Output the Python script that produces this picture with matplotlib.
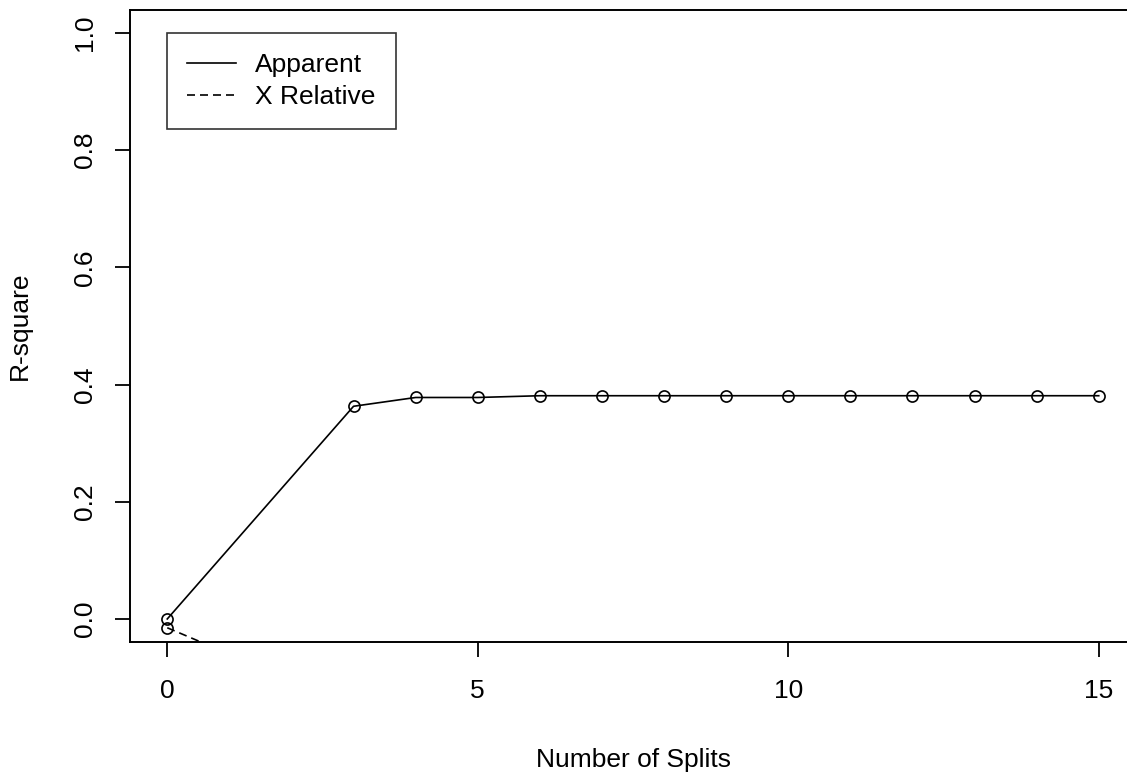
import matplotlib.pyplot as plt
from matplotlib.lines import Line2D

plt.rcParams['font.family'] = ['Liberation Sans', 'DejaVu Sans']

# number of splits and R-square values
splits = [0, 3, 4, 5, 6, 7, 8, 9, 10, 11, 12, 13, 14, 15]
apparent = [0.0, 0.363, 0.378, 0.378, 0.381, 0.381, 0.381, 0.381,
            0.381, 0.381, 0.381, 0.381, 0.381, 0.381]
x_relative = [-0.015, -0.15, -0.17, -0.18, -0.19, -0.19, -0.19, -0.19,
              -0.19, -0.19, -0.19, -0.19, -0.19, -0.19]

x_ticks = [0, 5, 10, 15]
y_ticks = [0.0, 0.2, 0.4, 0.6, 0.8, 1.0]

FS = 19
DASH = (4.8, 3)
W, H = 1127, 772
fig = plt.figure(figsize=(W / 100, H / 100), dpi=100)
left, right, top, bottom = 130, 1136, 9.6, 642.4
ax = fig.add_axes([left / W, (H - bottom) / H, (right - left) / W, (bottom - top) / H])

ax.plot(splits, apparent, '-', color='black', lw=1.2, marker='o',
        mfc='none', mec='black', ms=8, mew=1.2)
ax.plot(splits, x_relative, '--', color='black', lw=1.2, marker='o',
        mfc='none', mec='black', ms=8, mew=1.2, dashes=DASH)

ax.set_xlim(-0.6, 15.6)
ax.set_ylim(-0.04, 1.04)
ax.set_xticks(x_ticks)
ax.set_yticks(y_ticks)
ax.set_xticklabels([str(t) for t in x_ticks])
ax.set_yticklabels(['%.1f' % t for t in y_ticks], rotation=90, va='center')
ax.tick_params(labelsize=FS, length=11, width=1.3, color='black')
ax.tick_params(axis='x', pad=15)
ax.tick_params(axis='y', pad=13)
for s in ax.spines.values():
    s.set_linewidth(1.4)

fig.text(633 / W, 1 - 767 / H, 'Number of Splits', ha='center', va='baseline', fontsize=FS)
fig.text(20 / W, 1 - 326 / H, 'R-square', ha='center', va='center', fontsize=FS, rotation=90)

handles = [Line2D([], [], color='black', lw=1.2),
           Line2D([], [], color='black', lw=1.2, ls='--', dashes=DASH)]
leg = ax.legend(handles, ['Apparent', 'X Relative'], loc='upper left',
                bbox_to_anchor=((167 - left) / (right - left), 1 - (33 - top) / (bottom - top)),
                fontsize=FS, frameon=True, fancybox=False, edgecolor='black',
                handlelength=1.85, handletextpad=0.75, borderpad=0.75,
                labelspacing=0.33, borderaxespad=0)
leg.get_frame().set_linewidth(1.2)

fig.savefig('out.png', dpi=100)
